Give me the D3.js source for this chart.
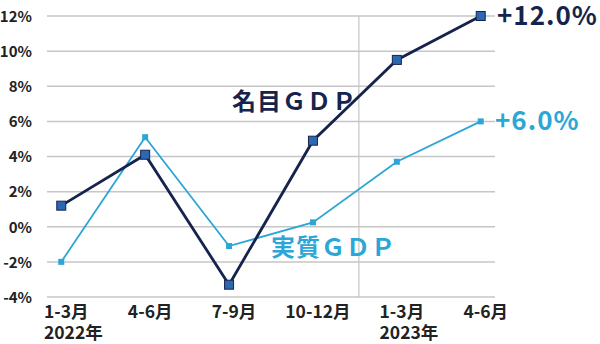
<!DOCTYPE html>
<html>
<head>
<meta charset="utf-8">
<script src="https://cdn.jsdelivr.net/npm/d3@7"></script>
<style>
body{margin:0;background:#fff;}
svg{display:block;font-family:"Noto Sans CJK JP","Noto Sans",sans-serif;}
</style>
</head>
<body>
<svg id="chart" width="600" height="344"></svg>
<script>
// quarters and years
var quarters=["1-3月","4-6月","7-9月","10-12月","1-3月","4-6月"];
var years=["2022年","","","","2023年",""];
// GDP growth, %
var nominal=[1.2,4.1,-3.3,4.9,9.5,12.0];
var real=[-2.0,5.1,-1.1,0.25,3.7,6.0];
var yTicks=[-4,-2,0,2,4,6,8,10,12];

var navy="#16244d",blue="#2ba6d6",markerBlue="#2c68b2";

var svg=d3.select("#chart");
var plotL=47,plotR=495,plotT=16,plotB=297;

var x=d3.scalePoint()
	.domain(d3.range(quarters.length))
	.range([plotL,plotR])
	.padding(0.17);
var y=d3.scaleLinear().domain([-4,12]).range([plotB,plotT]);

//grid
svg.append("g").selectAll("line")
	.data(yTicks).enter().append("line")
	.attr("x1",plotL).attr("x2",plotR)
	.attr("y1",function(d){return y(d);}).attr("y2",function(d){return y(d);})
	.attr("stroke","#c6c6c6").attr("stroke-width",1.5);

//year divider
var xDiv=(x(3)+x(4))/2+4;
svg.append("line")
	.attr("x1",xDiv).attr("x2",xDiv).attr("y1",y(12)).attr("y2",y(-4))
	.attr("stroke","#c6c6c6").attr("stroke-width",1.2);

//y axis
var yAxis=d3.axisLeft(y).tickValues(yTicks).tickSize(0).tickPadding(0)
	.tickFormat(function(d){return d+"%";});
var yg=svg.append("g").attr("transform","translate(32,0)").call(yAxis);
yg.select(".domain").remove();
yg.selectAll("text").attr("font-size",15).attr("font-weight","bold").attr("fill","#222")
	.attr("font-family","'Noto Sans CJK JP',sans-serif")
	.attr("dy","0.35em");

//x labels
var xl=svg.append("g");
quarters.forEach(function(q,i){
	var t=xl.append("text")
		.attr("x",x(i)+5).attr("y",318)
		.attr("text-anchor","middle")
		.attr("font-size",17.5).attr("font-weight","bold").attr("fill","#222")
		.text(q);
	if(years[i]){
		var bb=t.node().getBBox();
		xl.append("text")
			.attr("x",bb.x).attr("y",339)
			.attr("font-size",17.5).attr("font-weight","bold").attr("fill","#222")
			.text(years[i]);
	}
});

var line=d3.line()
	.x(function(d,i){return x(i);})
	.y(function(d){return y(d);});

//real GDP
svg.append("path").datum(real)
	.attr("d",line).attr("fill","none")
	.attr("stroke",blue).attr("stroke-width",1.8);
svg.append("g").selectAll("rect")
	.data(real).enter().append("rect")
	.attr("x",function(d,i){return x(i)-3;})
	.attr("y",function(d){return y(d)-3;})
	.attr("width",6).attr("height",6)
	.attr("fill",blue);

//nominal GDP
svg.append("path").datum(nominal)
	.attr("d",line).attr("fill","none")
	.attr("stroke",navy).attr("stroke-width",2.8);
svg.append("g").selectAll("rect")
	.data(nominal).enter().append("rect")
	.attr("x",function(d,i){return x(i)-4.5;})
	.attr("y",function(d){return y(d)-4.5;})
	.attr("width",9).attr("height",9)
	.attr("fill",markerBlue).attr("stroke",navy).attr("stroke-width",1);

//series labels
svg.append("text")
	.attr("x",232).attr("y",110)
	.attr("font-size",24).attr("font-weight","bold").attr("fill",navy)
	.attr("letter-spacing",1)
	.text("名目ＧＤＰ");
svg.append("text")
	.attr("x",271).attr("y",256)
	.attr("font-size",24).attr("font-weight","bold").attr("fill",blue)
	.attr("letter-spacing",1)
	.text("実質ＧＤＰ");

svg.append("text")
	.attr("x",497).attr("y",y(12)+9)
	.attr("font-size",26).attr("font-weight","bold").attr("fill",navy)
	.attr("letter-spacing",1)
	.text("+12.0%");
svg.append("text")
	.attr("x",495).attr("y",y(6)+9)
	.attr("font-size",26).attr("font-weight","bold").attr("fill",blue)
	.attr("letter-spacing",1)
	.text("+6.0%");
</script>
</body>
</html>
